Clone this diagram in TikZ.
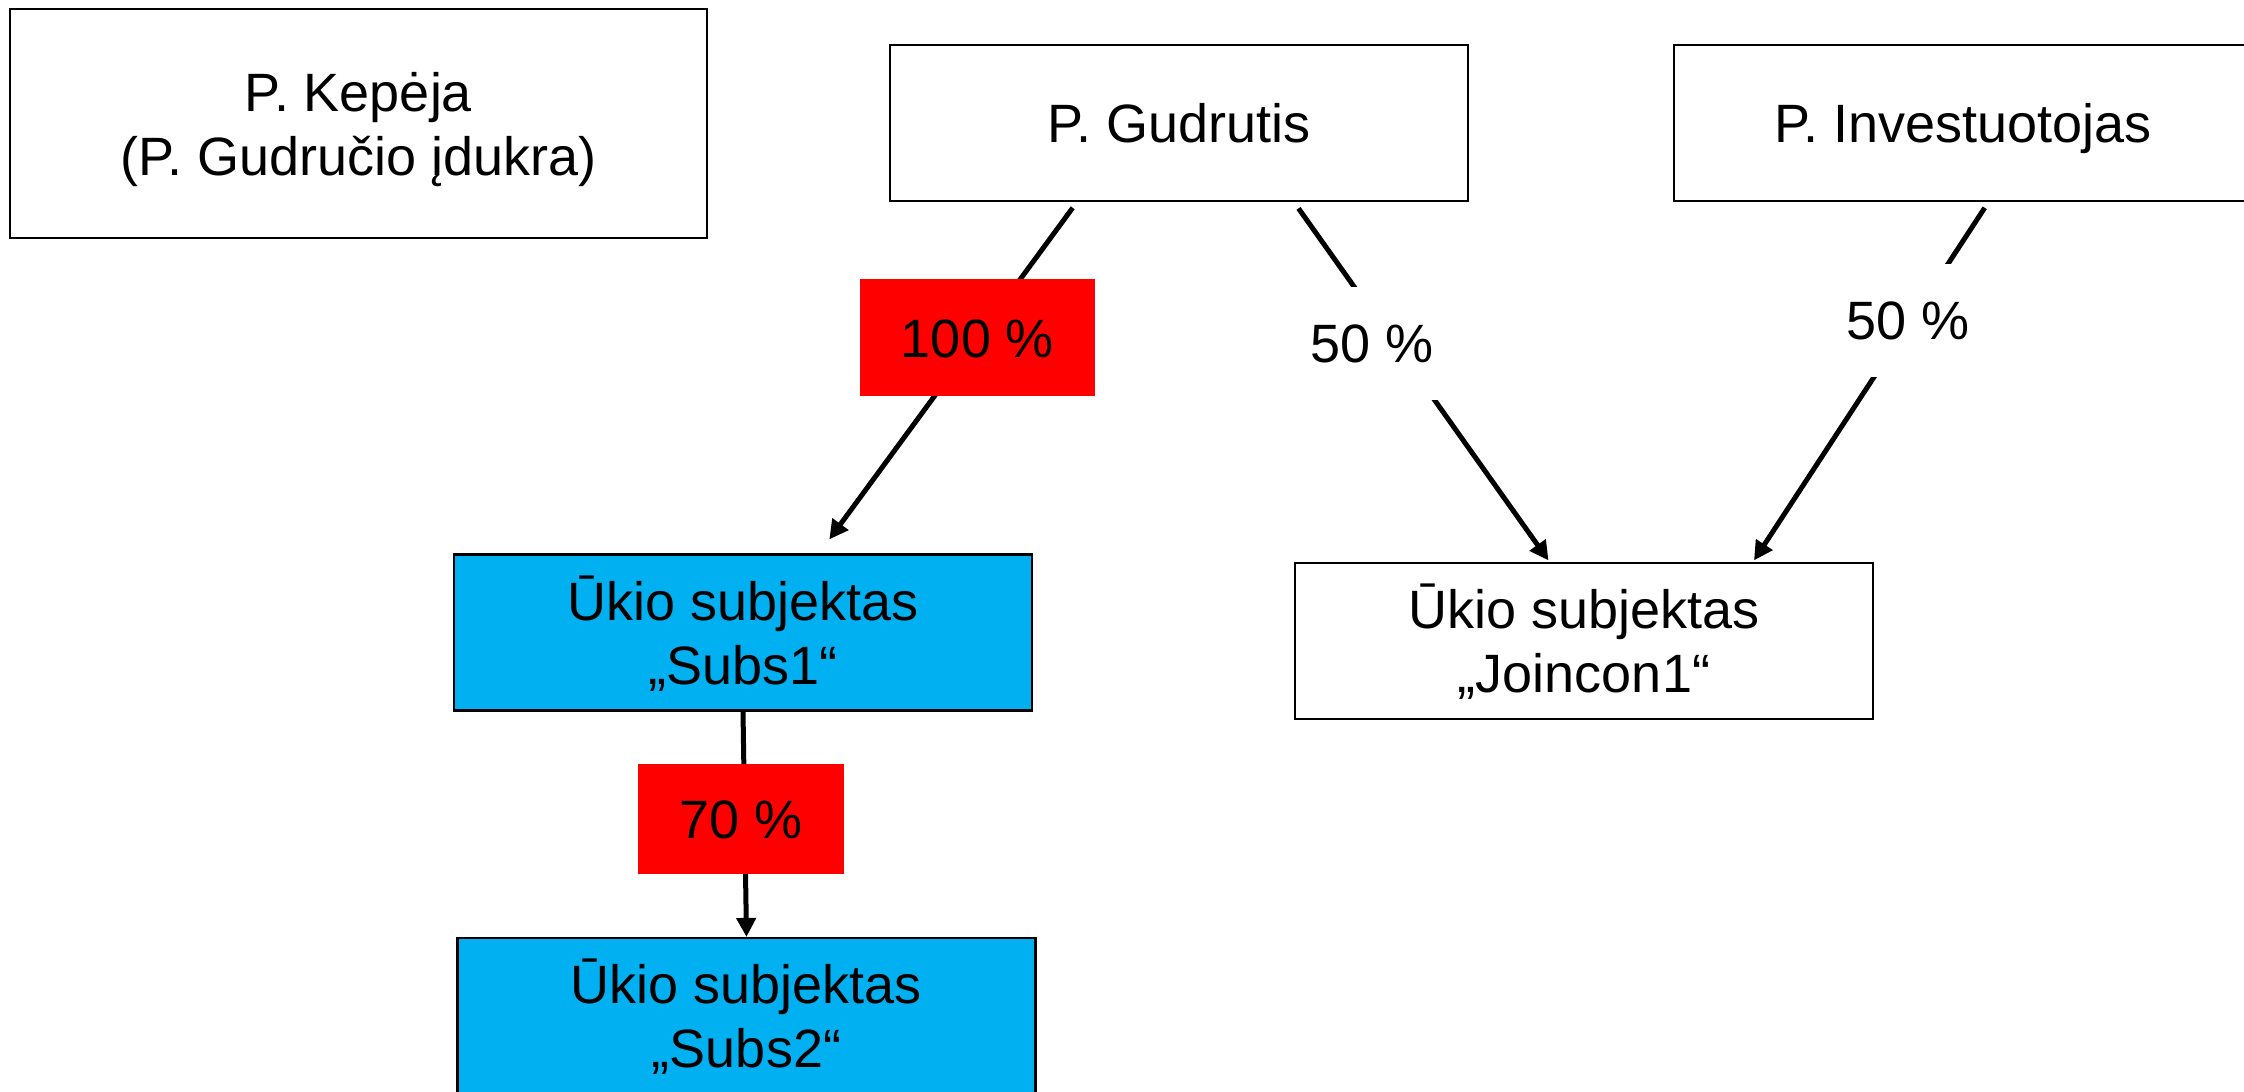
\documentclass[tikz,border=0pt]{standalone}
\usepackage{fontspec}
\setmainfont{Liberation Sans}
\usetikzlibrary{arrows.meta,calc}
\definecolor{boxblue}{HTML}{00B0F0}
\definecolor{pctred}{HTML}{FF0000}
\begin{document}
\begin{tikzpicture}[x=1pt,y=-1pt,
  every node/.style={font=\fontsize{54}{64}\selectfont, inner sep=0pt},
  box/.style={draw=black, line width=2.2pt, minimum width=578pt, minimum height=156pt, align=center},
  oneline/.style={text height=39pt, text depth=0pt},
  twoline/.style={text height=103pt, text depth=0pt},
  conn/.style={line width=5pt, -{Triangle[length=19pt,width=19pt]}},
  redlbl/.style={fill=pctred, oneline},
  whitelbl/.style={fill=white, oneline, minimum width=136pt, minimum height=113pt}]

\useasboundingbox (0,0) rectangle (2244,1092);
\clip (0,0) rectangle (2244,1092);
\fill[white] (0,0) rectangle (2244,1092);

% boxes
\node[box, twoline, minimum width=697pt, minimum height=229pt] (kep) at (358.5,123.5) {P. Kepėja\\(P. Gudručio įdukra)};
\node[box, oneline] (gud) at (1179,123) {P. Gudrutis};
\node[box, oneline] (inv) at (1963,123) {P. Investuotojas};
\node[box, twoline, fill=boxblue] (s1) at (743,632.5) {Ūkio subjektas\\„Subs1“};
\node[box, twoline, fill=boxblue] (s2) at (746.5,1016) {Ūkio subjektas\\„Subs2“};
\node[box, twoline] (jc) at (1584,641) {Ūkio subjektas\\„Joincon1“};

% connector end points
\coordinate (g1) at ($(gud.south)+(-106.3,5.7)$);
\coordinate (t1) at ($(s1.north)+(86.3,-14)$);
\coordinate (g2) at ($(gud.south)+(119.5,6.3)$);
\coordinate (t2) at ($(jc.north)+(-35.5,-1.5)$);
\coordinate (i1) at ($(inv.south)+(21.7,5.7)$);
\coordinate (t3) at ($(jc.north)+(170,-1.5)$);

% connectors
\draw[conn] (g1) -- (t1);
\draw[conn] (g2) -- (t2);
\draw[conn] (i1) -- (t3);
\draw[conn] (s1.south) -- (s2.north);

% labels
\node[redlbl, minimum width=235pt, minimum height=117pt] (p100) at (977.5,337.5) {100 \%};
\node[redlbl, minimum width=206pt, minimum height=110pt] (p70) at (741,819) {70 \%};
\node[whitelbl] (p50a) at (1372,343) {50 \%};
\node[whitelbl] (p50b) at (1908,320) {50 \%};
\end{tikzpicture}
\end{document}
